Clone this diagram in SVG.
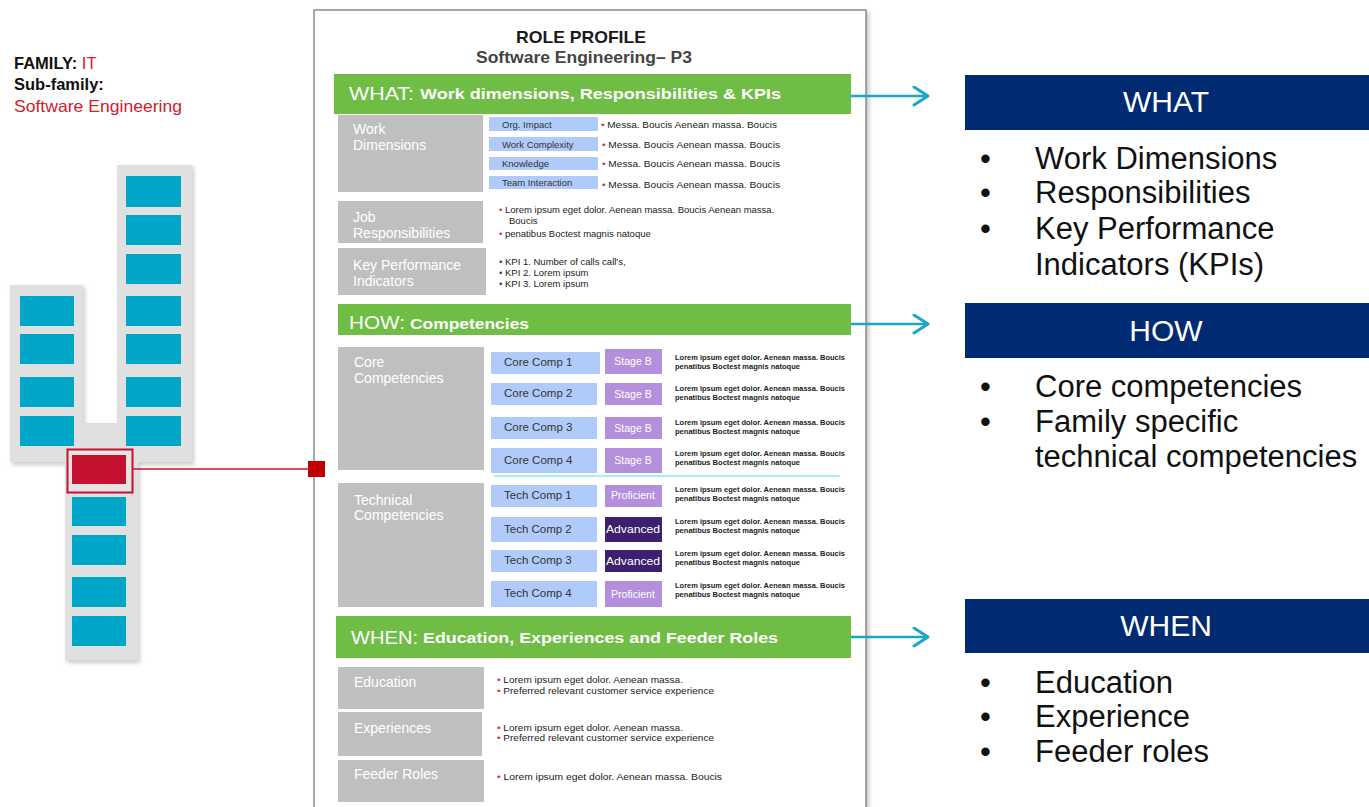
<svg xmlns="http://www.w3.org/2000/svg" width="1369" height="807" viewBox="0 0 1369 807">
  <style>
    text { font-family: "Liberation Sans", Arial, sans-serif; }
    .cell { fill: #00a6c8; }
    .bar { fill: #6fbd45; }
    .barBig { fill: #ffffff; font-size: 18px; }
    .barSmall { fill: #ffffff; font-size: 14px; font-weight: bold; }
    .gbox { fill: #bfbfbf; }
    .glabel { fill: #ffffff; font-size: 14px; }
    .lbox { fill: #b0cbfa; }
    .llabel { fill: #333333; font-size: 9.5px; }
    .clabel { fill: #333333; font-size: 11.5px; }
    .tiny { fill: #1a1a1a; font-size: 9.5px; }
    .micro { fill: #222222; font-size: 7.5px; font-weight: bold; }
    .stage { fill: #b48fdc; }
    .adv { fill: #3c1f6e; }
    .badge { fill: #ffffff; font-size: 10.5px; text-anchor: middle; }
    .navy { fill: #002b73; }
    .navyText { fill: #ffffff; font-size: 30px; text-anchor: middle; }
    .big { fill: #111111; font-size: 31px; }
    .arrow { stroke: #1ba6c9; stroke-width: 2.5; fill: none; }
  </style>
  <defs>
    <marker id="chev" markerUnits="userSpaceOnUse" markerWidth="20" markerHeight="22" refX="16" refY="10" orient="auto">
      <path d="M2,1 L16,10 L2,19" fill="none" stroke="#1ba6c9" stroke-width="3" stroke-linecap="round" stroke-linejoin="round"/>
    </marker>
    <filter id="soft" x="-20%" y="-20%" width="140%" height="140%">
      <feGaussianBlur stdDeviation="2"/>
    </filter>
  </defs>

  <rect width="1369" height="807" fill="#ffffff"/>

  <!-- family label -->
  <g id="family-label">
    <text x="14" y="69" font-size="16.5" font-weight="bold" fill="#111111">FAMILY: <tspan fill="#d0202e" font-weight="normal">IT</tspan></text>
    <text x="14" y="90" font-size="16.5" font-weight="bold" fill="#111111">Sub-family:</text>
    <text x="14" y="112" font-size="16.5" fill="#d0202e" textLength="168" lengthAdjust="spacingAndGlyphs">Software Engineering</text>
  </g>

  <!-- job family ladder -->
  <g id="family-ladder">
    <path d="M120,167 L194,167 L194,465 L140,465 L140,663 L67,663 L67,465 L12,465 L12,287 L85,287 L85,426 L119,426 Z" fill="#9a9a9a" opacity="0.5" filter="url(#soft)"/>
    <path d="M117,165 L192,165 L192,462 L138,462 L138,660 L65,660 L65,462 L10,462 L10,285 L83,285 L83,423 L117,423 Z" fill="#e0e0e0"/>
    <rect class="cell" x="126" y="176" width="55" height="31"/>
    <rect class="cell" x="126" y="215" width="55" height="30"/>
    <rect class="cell" x="126" y="254" width="55" height="30"/>
    <rect class="cell" x="126" y="296" width="55" height="30"/>
    <rect class="cell" x="126" y="334" width="55" height="30"/>
    <rect class="cell" x="126" y="377" width="55" height="30"/>
    <rect class="cell" x="126" y="416" width="55" height="30"/>
    <rect class="cell" x="20" y="296" width="54" height="30"/>
    <rect class="cell" x="20" y="334" width="54" height="30"/>
    <rect class="cell" x="20" y="377" width="54" height="30"/>
    <rect class="cell" x="20" y="416" width="54" height="30"/>
    <rect class="cell" x="72" y="497" width="54" height="29"/>
    <rect class="cell" x="72" y="535" width="54" height="30"/>
    <rect class="cell" x="72" y="577" width="54" height="30"/>
    <rect class="cell" x="72" y="616" width="54" height="30"/>
  </g>

  <g id="selected-role">
    <rect x="67.5" y="449.5" width="65" height="43" fill="#e4e4e4" stroke="#c8102e" stroke-width="2"/>
    <rect x="72" y="455" width="54" height="29" fill="#c4112f"/>
  </g>

  <!-- role profile sheet -->
  <g id="profile-sheet">
    <rect x="317" y="12" width="552" height="800" fill="#9a9a9a" opacity="0.6" filter="url(#soft)"/>
    <rect x="314" y="10" width="552" height="800" fill="#ffffff" stroke="#8c8c8c" stroke-width="1.5"/>
    <text x="581" y="43" font-size="17" font-weight="bold" fill="#1a1a1a" text-anchor="middle" textLength="130" lengthAdjust="spacingAndGlyphs">ROLE PROFILE</text>
    <text x="584" y="63" font-size="16" font-weight="bold" fill="#444444" text-anchor="middle" textLength="216" lengthAdjust="spacingAndGlyphs">Software Engineering– P3</text>
  </g>

  <!-- WHAT section -->
  <g id="what-section">
    <rect class="bar" x="334" y="74" width="517" height="40"/>
    <text x="349" y="100" class="barBig" textLength="65" lengthAdjust="spacingAndGlyphs">WHAT:</text>
    <text x="420" y="99" class="barSmall" textLength="361" lengthAdjust="spacingAndGlyphs">Work dimensions, Responsibilities &amp; KPIs</text>

    <rect class="gbox" x="338" y="115" width="145" height="77"/>
    <text x="353" y="134" class="glabel">Work</text>
    <text x="353" y="150" class="glabel">Dimensions</text>

    <rect class="lbox" x="489" y="117" width="109" height="14"/>
    <rect class="lbox" x="489" y="137" width="109" height="14"/>
    <rect class="lbox" x="489" y="157" width="109" height="13"/>
    <rect class="lbox" x="489" y="176" width="109" height="13"/>
    <text x="502" y="127.5" class="llabel">Org. Impact</text>
    <text x="502" y="147.5" class="llabel">Work Complexity</text>
    <text x="502" y="166.5" class="llabel">Knowledge</text>
    <text x="502" y="185.5" class="llabel">Team Interaction</text>
    <text x="601" y="128" class="tiny" textLength="176" lengthAdjust="spacingAndGlyphs"><tspan fill="#c0392b">•</tspan> Messa. Boucis Aenean massa. Boucis</text>
    <text x="602" y="148" class="tiny" textLength="178" lengthAdjust="spacingAndGlyphs"><tspan fill="#c0392b">•</tspan> Messa. Boucis Aenean massa. Boucis</text>
    <text x="602" y="167" class="tiny" textLength="178" lengthAdjust="spacingAndGlyphs"><tspan fill="#c0392b">•</tspan> Messa. Boucis Aenean massa. Boucis</text>
    <text x="602" y="188" class="tiny" textLength="178" lengthAdjust="spacingAndGlyphs"><tspan fill="#c0392b">•</tspan> Messa. Boucis Aenean massa. Boucis</text>

    <rect class="gbox" x="338" y="201" width="145" height="42"/>
    <text x="353" y="222" class="glabel">Job</text>
    <text x="353" y="238" class="glabel">Responsibilities</text>
    <text x="499" y="213" class="tiny"><tspan fill="#c0392b">•</tspan> Lorem ipsum eget dolor. Aenean massa. Boucis Aenean massa.</text>
    <text x="509" y="224" class="tiny">Boucis</text>
    <text x="499" y="237" class="tiny"><tspan fill="#c0392b">•</tspan> penatibus Boctest magnis natoque</text>

    <rect class="gbox" x="338" y="248" width="148" height="47"/>
    <text x="353" y="270" class="glabel">Key Performance</text>
    <text x="353" y="286" class="glabel">Indicators</text>
    <text x="499" y="265" class="tiny"><tspan fill="#1f3a93">•</tspan> KPI 1. Number of calls call's,</text>
    <text x="499" y="276" class="tiny"><tspan fill="#1f3a93">•</tspan> KPI 2. Lorem ipsum</text>
    <text x="499" y="287" class="tiny"><tspan fill="#1f3a93">•</tspan> KPI 3. Lorem ipsum</text>
  </g>

  <!-- HOW section -->
  <g id="how-section">
    <rect class="bar" x="338" y="304" width="513" height="31"/>
    <text x="349" y="329" class="barBig" textLength="56" lengthAdjust="spacingAndGlyphs">HOW:</text>
    <text x="410" y="329" class="barSmall" textLength="119" lengthAdjust="spacingAndGlyphs">Competencies</text>

    <rect class="gbox" x="338" y="347" width="146" height="123"/>
    <text x="354" y="367" class="glabel">Core</text>
    <text x="354" y="383" class="glabel">Competencies</text>

    <rect class="lbox" x="491" y="352" width="109" height="22"/>
    <rect class="lbox" x="491" y="383" width="106" height="22"/>
    <rect class="lbox" x="491" y="417" width="106" height="22"/>
    <rect class="lbox" x="491" y="448" width="106" height="25"/>
    <text x="504" y="366" class="clabel">Core Comp 1</text>
    <text x="504" y="397" class="clabel">Core Comp  2</text>
    <text x="504" y="431" class="clabel">Core Comp  3</text>
    <text x="504" y="464" class="clabel">Core Comp  4</text>

    <rect class="stage" x="605" y="349" width="57" height="25"/>
    <rect class="stage" x="605" y="383" width="57" height="22"/>
    <rect class="stage" x="605" y="417" width="57" height="22"/>
    <rect class="stage" x="605" y="448" width="57" height="25"/>
    <text x="633" y="365" class="badge">Stage B</text>
    <text x="633" y="398" class="badge">Stage B</text>
    <text x="633" y="432" class="badge">Stage B</text>
    <text x="633" y="464" class="badge">Stage B</text>

    <text x="675" y="360" class="micro" textLength="170" lengthAdjust="spacingAndGlyphs">Lorem ipsum eget dolor. Aenean massa. Boucis</text>
    <text x="675" y="369" class="micro" textLength="125" lengthAdjust="spacingAndGlyphs">penatibus Boctest magnis natoque</text>
    <text x="675" y="391" class="micro" textLength="170" lengthAdjust="spacingAndGlyphs">Lorem ipsum eget dolor. Aenean massa. Boucis</text>
    <text x="675" y="400" class="micro" textLength="125" lengthAdjust="spacingAndGlyphs">penatibus Boctest magnis natoque</text>
    <text x="675" y="425" class="micro" textLength="170" lengthAdjust="spacingAndGlyphs">Lorem ipsum eget dolor. Aenean massa. Boucis</text>
    <text x="675" y="434" class="micro" textLength="125" lengthAdjust="spacingAndGlyphs">penatibus Boctest magnis natoque</text>
    <text x="675" y="456" class="micro" textLength="170" lengthAdjust="spacingAndGlyphs">Lorem ipsum eget dolor. Aenean massa. Boucis</text>
    <text x="675" y="465" class="micro" textLength="125" lengthAdjust="spacingAndGlyphs">penatibus Boctest magnis natoque</text>

    <line x1="494" y1="476" x2="840" y2="476" stroke="#a8ecf8" stroke-width="2"/>

    <rect class="gbox" x="338" y="483" width="146" height="124"/>
    <text x="354" y="505" class="glabel">Technical</text>
    <text x="354" y="520" class="glabel">Competencies</text>

    <rect class="lbox" x="491" y="485" width="106" height="22"/>
    <rect class="lbox" x="491" y="517" width="106" height="25"/>
    <rect class="lbox" x="491" y="550" width="106" height="22"/>
    <rect class="lbox" x="491" y="581" width="106" height="26"/>
    <text x="504" y="499" class="clabel">Tech Comp 1</text>
    <text x="504" y="533" class="clabel">Tech Comp 2</text>
    <text x="504" y="564" class="clabel">Tech Comp 3</text>
    <text x="504" y="597" class="clabel">Tech Comp 4</text>

    <rect class="stage" x="605" y="485" width="57" height="22"/>
    <rect class="adv" x="605" y="517" width="57" height="25"/>
    <rect class="adv" x="605" y="550" width="57" height="22"/>
    <rect class="stage" x="605" y="581" width="57" height="26"/>
    <text x="633" y="499" class="badge">Proficient</text>
    <text x="633" y="533" class="badge" textLength="54" lengthAdjust="spacingAndGlyphs">Advanced</text>
    <text x="633" y="565" class="badge" textLength="54" lengthAdjust="spacingAndGlyphs">Advanced</text>
    <text x="633" y="598" class="badge">Proficient</text>

    <text x="675" y="492" class="micro" textLength="170" lengthAdjust="spacingAndGlyphs">Lorem ipsum eget dolor. Aenean massa. Boucis</text>
    <text x="675" y="501" class="micro" textLength="125" lengthAdjust="spacingAndGlyphs">penatibus Boctest magnis natoque</text>
    <text x="675" y="524" class="micro" textLength="170" lengthAdjust="spacingAndGlyphs">Lorem ipsum eget dolor. Aenean massa. Boucis</text>
    <text x="675" y="533" class="micro" textLength="125" lengthAdjust="spacingAndGlyphs">penatibus Boctest magnis natoque</text>
    <text x="675" y="556" class="micro" textLength="170" lengthAdjust="spacingAndGlyphs">Lorem ipsum eget dolor. Aenean massa. Boucis</text>
    <text x="675" y="565" class="micro" textLength="125" lengthAdjust="spacingAndGlyphs">penatibus Boctest magnis natoque</text>
    <text x="675" y="588" class="micro" textLength="170" lengthAdjust="spacingAndGlyphs">Lorem ipsum eget dolor. Aenean massa. Boucis</text>
    <text x="675" y="597" class="micro" textLength="125" lengthAdjust="spacingAndGlyphs">penatibus Boctest magnis natoque</text>
  </g>

  <!-- WHEN section -->
  <g id="when-section">
    <rect class="bar" x="336" y="616" width="515" height="42"/>
    <text x="351" y="644" class="barBig" textLength="67" lengthAdjust="spacingAndGlyphs">WHEN:</text>
    <text x="423" y="643" class="barSmall" textLength="355" lengthAdjust="spacingAndGlyphs">Education, Experiences and Feeder Roles</text>

    <rect class="gbox" x="338" y="667" width="146" height="42"/>
    <text x="354" y="687" class="glabel">Education</text>
    <text x="497" y="683" class="tiny" font-size="8.5" textLength="186" lengthAdjust="spacingAndGlyphs"><tspan fill="#c0392b">•</tspan> Lorem ipsum eget dolor. Aenean massa.</text>
    <text x="497" y="694" class="tiny" font-size="8.5" textLength="217" lengthAdjust="spacingAndGlyphs"><tspan fill="#c0392b">•</tspan> Preferred relevant customer service experience</text>

    <rect class="gbox" x="338" y="712" width="144" height="44"/>
    <text x="354" y="733" class="glabel">Experiences</text>
    <text x="497" y="731" class="tiny" font-size="8" textLength="186" lengthAdjust="spacingAndGlyphs"><tspan fill="#c0392b">•</tspan> Lorem ipsum eget dolor. Aenean massa.</text>
    <text x="497" y="741" class="tiny" font-size="8" textLength="217" lengthAdjust="spacingAndGlyphs"><tspan fill="#c0392b">•</tspan> Preferred relevant customer service experience</text>

    <rect class="gbox" x="338" y="760" width="146" height="42"/>
    <text x="354" y="779" class="glabel">Feeder Roles</text>
    <text x="497" y="780" class="tiny" font-size="8.5" textLength="225" lengthAdjust="spacingAndGlyphs"><tspan fill="#c0392b">•</tspan> Lorem ipsum eget dolor. Aenean massa.  Boucis</text>
  </g>

  <!-- summary panels -->
  <g id="what-summary">
    <rect class="navy" x="965" y="75" width="404" height="55"/>
    <text x="1166" y="112" class="navyText">WHAT</text>
    <text x="980" y="169" class="big">•</text>
    <text x="1035" y="169" class="big">Work Dimensions</text>
    <text x="980" y="203" class="big">•</text>
    <text x="1035" y="203" class="big">Responsibilities</text>
    <text x="980" y="239" class="big">•</text>
    <text x="1035" y="239" class="big">Key Performance</text>
    <text x="1035" y="275" class="big">Indicators (KPIs)</text>
  </g>

  <g id="how-summary">
    <rect class="navy" x="965" y="303" width="404" height="55"/>
    <text x="1166" y="341" class="navyText">HOW</text>
    <text x="980" y="397" class="big">•</text>
    <text x="1035" y="397" class="big">Core competencies</text>
    <text x="980" y="432" class="big">•</text>
    <text x="1035" y="432" class="big">Family specific</text>
    <text x="1035" y="467" class="big">technical competencies</text>
  </g>

  <g id="when-summary">
    <rect class="navy" x="965" y="599" width="404" height="54"/>
    <text x="1166" y="636" class="navyText">WHEN</text>
    <text x="980" y="693" class="big">•</text>
    <text x="1035" y="693" class="big">Education</text>
    <text x="980" y="727" class="big">•</text>
    <text x="1035" y="727" class="big">Experience</text>
    <text x="980" y="762" class="big">•</text>
    <text x="1035" y="762" class="big">Feeder roles</text>
  </g>

  <!-- connectors -->
  <g id="connectors">
    <line x1="133" y1="469" x2="310" y2="469" stroke="#c8102e" stroke-width="1.5"/>
    <rect x="308" y="461" width="17" height="16" fill="#c00000"/>
    <line class="arrow" x1="851" y1="96" x2="928" y2="96" marker-end="url(#chev)"/>
    <line class="arrow" x1="851" y1="324" x2="928" y2="324" marker-end="url(#chev)"/>
    <line class="arrow" x1="851" y1="637" x2="928" y2="637" marker-end="url(#chev)"/>
  </g>
</svg>
